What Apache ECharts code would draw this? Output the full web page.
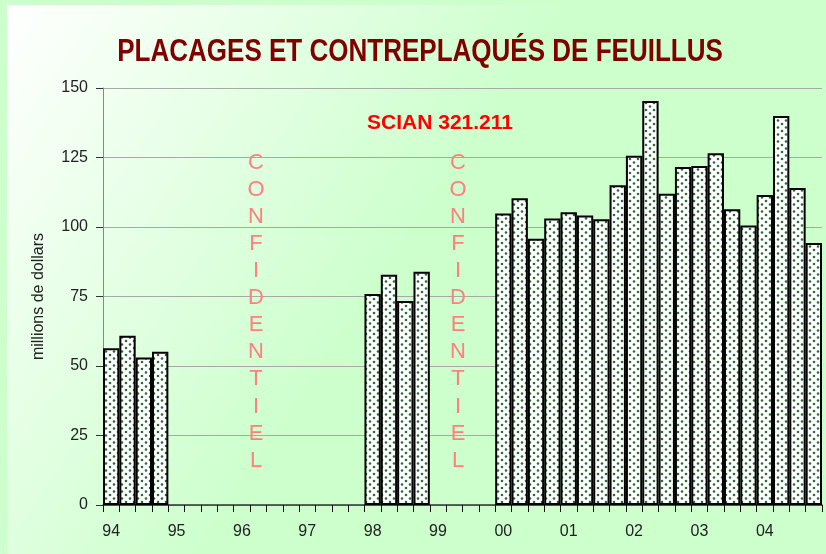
<!DOCTYPE html>
<html>
<head>
<meta charset="utf-8">
<style>
  html, body { margin: 0; padding: 0; }
  #main { width: 826px; height: 554px; }
</style>
<script src="https://cdn.jsdelivr.net/npm/echarts@6/dist/echarts.min.js"></script>
</head>
<body>
<div id="main"></div>
<script>
// years shown on the x axis, one label per 4 quarters
const years = ['94', '95', '96', '97', '98', '99', '00', '01', '02', '03', '04']
// quarterly values, millions de dollars (null = confidentiel / no data)
const values94 = [56.4, 60.9, 53.1, 55.1]
const values95to97 = [null, null, null, null, null, null, null, null, null, null, null, null]
const values98 = [75.9, 82.8, 73.4, 83.9]
const values99 = [null, null, null, null]
const values00 = [104.9, 110.3, 95.8, 103.1]
const values01 = [105.3, 104.1, 102.8, 115.0]
const values02 = [125.6, 145.3, 112.0, 121.6]
const values03 = [121.9, 126.5, 106.4, 100.5]
const values04 = [111.5, 139.9, 114.0, 94.2]
const yTicks = [0, 25, 50, 75, 100, 125, 150]

const values = [].concat(values94, values95to97, values98, values99, values00, values01, values02, values03, values04)
const categories = []
years.forEach(y => {
  for (let q = 1; q <= 4; q++) categories.push(y + '-T' + q)
})

// dotted fill for the bars
const tile = document.createElement('canvas')
tile.width = 8
tile.height = 7
const ctx = tile.getContext('2d')
ctx.fillStyle = '#ffffff'
ctx.fillRect(0, 0, 8, 7)
ctx.fillStyle = '#2f6a3a'
ctx.beginPath(); ctx.arc(2, 1.5, 1.3, 0, Math.PI * 2); ctx.fill()
ctx.beginPath(); ctx.arc(6, 5, 1.3, 0, Math.PI * 2); ctx.fill()

const chart = echarts.init(document.getElementById('main'))

function vertical(word) {
  return word.split('').join('\n')
}

const option = {
  animation: false,
  backgroundColor: '#ccffcc',
  textStyle: { fontFamily: 'Liberation Sans, Arial, sans-serif' },
  graphic: [
    {
      type: 'rect',
      z: -10,
      silent: true,
      shape: { x: 7, y: 5, width: 819, height: 549 },
      style: {
        fill: new echarts.graphic.LinearGradient(0, 0, 1, 1, [
          { offset: 0, color: '#ffffff' },
          { offset: 0.48, color: '#ccffcc' },
          { offset: 1, color: '#ccffcc' }
        ])
      }
    },
    {
      // title, squeezed to look like a narrow bold face
      type: 'text',
      x: 420,
      y: 52,
      scaleX: 0.813,
      z: 10,
      style: {
        text: 'PLACAGES ET CONTREPLAQUÉS DE FEUILLUS',
        fill: '#800000',
        font: 'bold 32px "Liberation Sans", Arial, sans-serif',
        align: 'center',
        verticalAlign: 'middle'
      }
    },
    {
      type: 'text',
      x: 440,
      y: 123,
      z: 10,
      style: {
        text: 'SCIAN 321.211',
        fill: '#ff0000',
        font: 'bold 21px "Liberation Sans", Arial, sans-serif',
        align: 'center',
        verticalAlign: 'middle'
      }
    },
    {
      type: 'text',
      x: 256,
      y: 149,
      z: 10,
      style: {
        text: vertical('CONFIDENTIEL'),
        fill: '#ff8080',
        font: '22px "Liberation Sans", Arial, sans-serif',
        lineHeight: 27.1,
        align: 'center'
      }
    },
    {
      type: 'text',
      x: 458,
      y: 149,
      z: 10,
      style: {
        text: vertical('CONFIDENTIEL'),
        fill: '#ff8080',
        font: '22px "Liberation Sans", Arial, sans-serif',
        lineHeight: 27.1,
        align: 'center'
      }
    }
  ],
  grid: { left: 103, right: 4, top: 88, bottom: 49 },
  xAxis: {
    type: 'category',
    data: categories,
    boundaryGap: true,
    axisLine: { lineStyle: { color: '#333', width: 1.5 } },
    axisTick: { show: true, interval: 0, length: 7, lineStyle: { color: '#111' } },
    axisLabel: {
      interval: 0,
      margin: 19,
      fontSize: 16,
      color: '#222',
      formatter: (v, i) => (i % 4 === 0 ? v.split('-')[0] : '')
    },
    splitLine: { show: false }
  },
  yAxis: {
    type: 'value',
    min: yTicks[0],
    max: yTicks[yTicks.length - 1],
    interval: 25,
    name: 'millions de dollars',
    nameLocation: 'middle',
    nameGap: 56,
    nameTextStyle: { fontSize: 16, color: '#222' },
    axisLine: { show: true, lineStyle: { color: '#888' } },
    axisTick: { show: true, length: 7, lineStyle: { color: '#333' } },
    axisLabel: { fontSize: 16, color: '#222', margin: 15 },
    splitLine: { lineStyle: { color: '#a8a8a8', width: 1 } }
  },
  series: [
    {
      type: 'bar',
      data: values,
      barCategoryGap: 0,
      itemStyle: {
        color: { image: tile, repeat: 'repeat' },
        borderColor: '#000',
        borderWidth: 2
      }
    }
  ]
}
chart.setOption(option)
</script>
</body>
</html>
